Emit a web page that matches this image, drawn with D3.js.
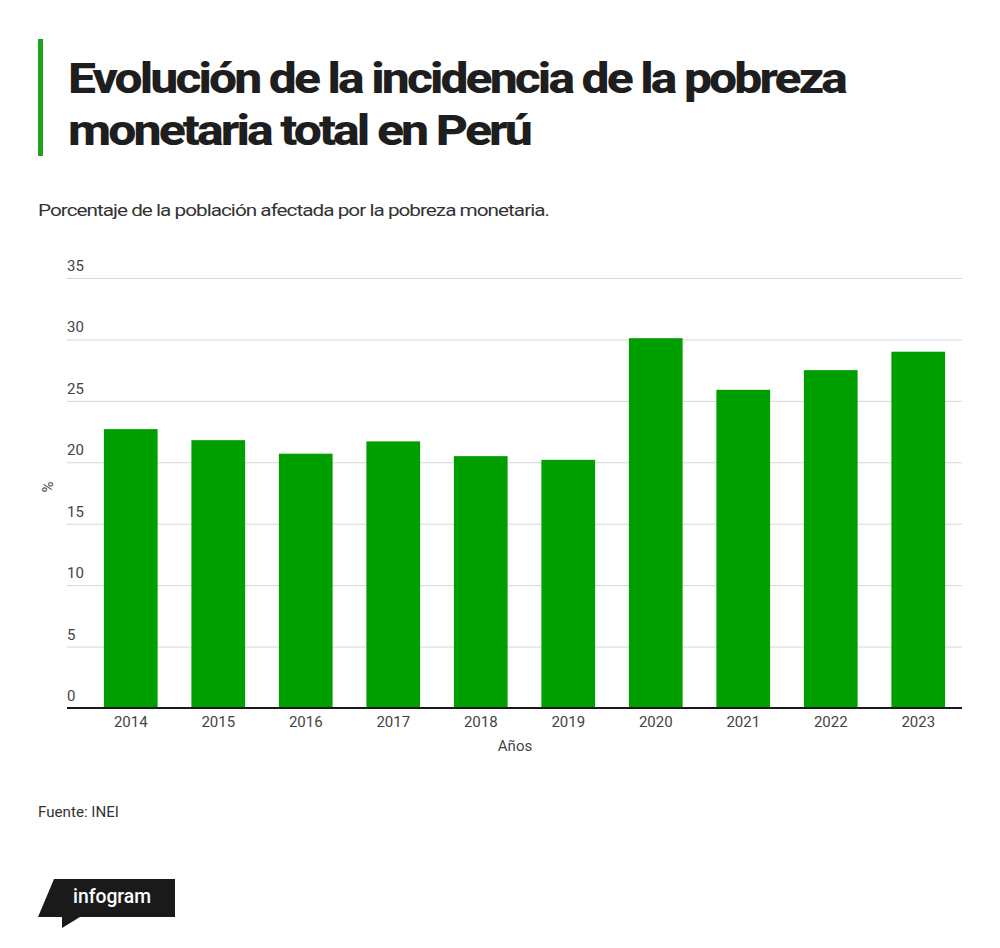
<!DOCTYPE html>
<html>
<head>
<meta charset="utf-8">
<script src="https://cdn.jsdelivr.net/npm/d3@7"></script>
<style>
  body { margin: 0; background: #fff; }
  text { font-family: Roboto, "Noto Sans", sans-serif; }
</style>
</head>
<body>
<div id="mainChart"></div>
<script>
// Data
const years = ["2014", "2015", "2016", "2017", "2018", "2019", "2020", "2021", "2022", "2023"]
const poverty = [22.7, 21.8, 20.7, 21.7, 20.5, 20.2, 30.1, 25.9, 27.5, 29.0]
const yTicks = [0, 5, 10, 15, 20, 25, 30, 35]

const titleLines = ["Evolución de la incidencia de la pobreza", "monetaria total en Perú"]
const titleWidths = [777, 462]
const subtitle = "Porcentaje de la población afectada por la pobreza monetaria."
const source = "Fuente: INEI"

const width = 1000, height = 948
const green = "#009f00"

let svg = d3.select("#mainChart").append("svg")
   .attr("width", width)
   .attr("height", height)

// Title block
svg.append("rect")
   .attr("x", 38).attr("y", 39)
   .attr("width", 5).attr("height", 117)
   .attr("fill", "#1fa21f")

svg.selectAll("text.title").data(titleLines)
   .join("text")
   .attr("class", "title")
   .attr("x", 68)
   .attr("y", (d, i) => 93 + i * 52)
   .attr("font-family", "Inter, Roboto, sans-serif")
   .attr("font-size", 43)
   .attr("font-weight", 800)
   .attr("letter-spacing", "-2.5px")
   .attr("textLength", (d, i) => titleWidths[i])
   .attr("lengthAdjust", "spacingAndGlyphs")
   .attr("fill", "#1e1e1e")
   .text(d => d)

svg.append("text")
   .attr("x", 38).attr("y", 216)
   .attr("font-family", "Inter, Roboto, sans-serif")
   .attr("font-size", 17)
   .attr("letter-spacing", "-0.8px")
   .attr("textLength", 511)
   .attr("lengthAdjust", "spacingAndGlyphs")
   .attr("fill", "#333")
   .text(subtitle)

// Scales
let x = d3.scaleBand()
   .domain(years)
   .range([87, 962])
   .paddingInner(0.386)
   .paddingOuter(0.193)

let y = d3.scaleLinear()
   .domain([0, 35])
   .range([708, 278])

// Gridlines + y labels
let yAxis = d3.axisLeft(y)
   .tickValues(yTicks)
   .tickSize(0)

let yg = svg.append("g")
   .attr("transform", "translate(67,0)")
   .call(yAxis)

yg.select(".domain").remove()
yg.selectAll("g.tick line")
   .attr("x1", 0).attr("x2", 895)
   .attr("stroke", "#d6d6d6")
   .attr("stroke-width", 1)
yg.selectAll("g.tick text")
   .attr("x", 0).attr("dy", "-0.5em")
   .attr("text-anchor", "start")
   .attr("font-size", 15)
   .attr("font-family", "Roboto, sans-serif")
   .attr("fill", "#444")

// Bars
svg.selectAll("rect.bar").data(poverty)
   .join("rect")
   .attr("class", "bar")
   .attr("x", (d, i) => x(years[i]))
   .attr("y", d => y(d))
   .attr("width", x.bandwidth())
   .attr("height", d => y(0) - y(d))
   .attr("fill", green)

// X axis
let xAxis = d3.axisBottom(x).tickSize(0)
let xg = svg.append("g")
   .attr("transform", "translate(0," + y(0) + ")")
   .call(xAxis)
xg.select(".domain").remove()
xg.append("line")
   .attr("x1", 67).attr("x2", 962)
   .attr("stroke", "#1a1a1a").attr("stroke-width", 2)
xg.selectAll("g.tick text")
   .attr("y", 19)
   .attr("dy", 0)
   .attr("font-size", 15)
   .attr("font-family", "Roboto, sans-serif")
   .attr("fill", "#444")

// Axis titles
svg.append("text")
   .attr("x", 515).attr("y", 751)
   .attr("text-anchor", "middle")
   .attr("font-size", 15)
   .attr("fill", "#444")
   .text("Años")

svg.append("text")
   .attr("transform", "translate(53,487) rotate(-90)")
   .attr("text-anchor", "middle")
   .attr("font-size", 15)
   .attr("fill", "#444")
   .text("%")

// Source
svg.append("text")
   .attr("x", 38).attr("y", 817)
   .attr("font-size", 15)
   .attr("textLength", 81)
   .attr("lengthAdjust", "spacingAndGlyphs")
   .attr("fill", "#333")
   .text(source)

// Infogram badge
svg.append("path")
   .attr("d", "M54,879 L175,879 L175,917 L80,917 L62,928 L62,917 L38,917 Z")
   .attr("fill", "#1a1a1a")
svg.append("text")
   .attr("x", 73).attr("y", 903)
   .attr("font-size", 21)
   .attr("font-weight", 500)
   .attr("textLength", 78)
   .attr("lengthAdjust", "spacingAndGlyphs")
   .attr("fill", "#fff")
   .text("infogram")
</script>
</body>
</html>
